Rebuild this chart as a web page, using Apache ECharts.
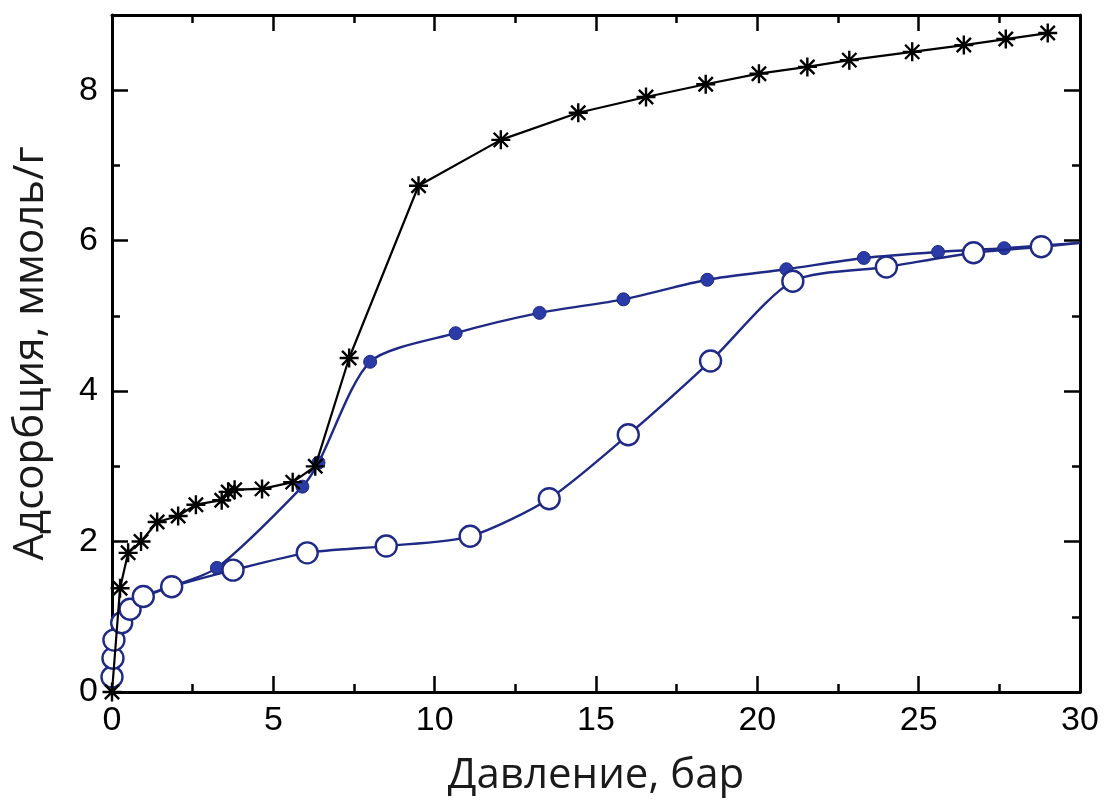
<!DOCTYPE html>
<html><head><meta charset="utf-8">
<script src="https://cdn.jsdelivr.net/npm/echarts@6/dist/echarts.min.js"></script>
<style>html,body{margin:0;padding:0;background:#fff}#c{width:1106px;height:802px}</style>
</head><body><div id="c"></div>
<script>
const xTicks = [0, 5, 10, 15, 20, 25, 30];
const yTicks = [0, 2, 4, 6, 8];

const starX = [0, 0.25, 0.5, 0.9, 1.4, 2.05, 2.6, 3.4, 3.6, 3.8, 4.65, 5.6, 6.3, 7.35, 9.5, 12.05, 14.45, 16.55, 18.4, 20.05, 21.55, 22.85, 24.8, 26.4, 27.7, 29.0];
const starY = [0, 1.38, 1.85, 2.0, 2.26, 2.34, 2.49, 2.55, 2.66, 2.69, 2.7, 2.79, 3.0, 4.44, 6.73, 7.34, 7.7, 7.91, 8.08, 8.22, 8.31, 8.4, 8.51, 8.6, 8.68, 8.76];

const filledX = [0, 0.05, 0.1, 0.35, 0.6, 1.0, 1.7, 3.25, 5.9, 6.4, 8.0, 10.65, 13.25, 15.85, 18.45, 20.9, 23.3, 25.6, 27.65];
const filledY = [0.2, 0.45, 0.7, 0.93, 1.1, 1.26, 1.38, 1.65, 2.73, 3.05, 4.39, 4.77, 5.04, 5.22, 5.48, 5.62, 5.77, 5.85, 5.9];

const openX = [0, 0.03, 0.06, 0.3, 0.56, 0.97, 1.85, 3.75, 6.05, 8.5, 11.1, 13.55, 16.0, 18.55, 21.1, 24.0, 26.7, 28.8];
const openY = [0.2, 0.45, 0.69, 0.92, 1.1, 1.27, 1.4, 1.62, 1.85, 1.94, 2.07, 2.57, 3.42, 4.4, 5.46, 5.65, 5.84, 5.92];

const lineEndX = 30;
const lineEndY = 5.97;

const xTitle = 'Давление, бар';
const yTitle = 'Адсорбция, ммоль/г';

const BLUE = '#1f2a86';
const BLUE_FILL = '#2a3ba8';
const pair = (xs, ys) => xs.map((x, i) => [x, ys[i]]);
const withEnd = (arr) => arr.concat([{ value: [lineEndX, lineEndY], symbol: 'none' }]);

const chart = echarts.init(document.getElementById('c'), null, { renderer: 'canvas' });
const axisCommon = {
  type: 'value', min: 0,
  axisLine: { show: true, onZero: false, lineStyle: { color: '#000', width: 3 } },
  axisTick: { show: true, inside: true, length: 16, lineStyle: { color: '#000', width: 2.5 } },
  minorTick: { show: true, splitNumber: 2, length: 8, lineStyle: { color: '#000', width: 2.5 } },
  splitLine: { show: false }
};
const labelFont = { color: '#000', fontSize: 34, fontFamily: 'Liberation Sans, Arial, sans-serif' };
const titleFont = { color: '#1a1a1a', fontSize: 42, fontFamily: 'Open Sans, Noto Sans, sans-serif' };

chart.setOption({
  animation: false,
  backgroundColor: '#fff',
  grid: { left: 112, right: 26, top: 15, bottom: 110 },
  xAxis: [
    Object.assign({}, axisCommon, {
      max: 30, interval: 5, position: 'bottom',
      axisLabel: Object.assign({ margin: 12, formatter: v => xTicks.includes(v) ? String(v) : '' }, labelFont),
      name: xTitle, nameLocation: 'middle', nameGap: 63, nameTextStyle: titleFont
    }),
    Object.assign({}, axisCommon, { max: 30, interval: 5, position: 'top', axisLabel: { show: false } })
  ],
  yAxis: [
    Object.assign({}, axisCommon, {
      max: 9, interval: 2, position: 'left',
      axisLabel: Object.assign({ margin: 14, formatter: v => yTicks.includes(v) ? String(v) : '' }, labelFont),
      name: yTitle, nameLocation: 'middle', nameGap: 60, nameRotate: 90, nameTextStyle: titleFont
    }),
    Object.assign({}, axisCommon, { max: 9, interval: 2, position: 'right', axisLabel: { show: false } })
  ],
  series: [
    {
      type: 'line', data: withEnd(pair(filledX, filledY)), smooth: 0.25,
      symbol: 'circle', symbolSize: 13,
      lineStyle: { color: BLUE, width: 2.4 },
      itemStyle: { color: BLUE_FILL, borderColor: BLUE, borderWidth: 1 }, z: 2
    },
    {
      type: 'line', data: withEnd(pair(openX, openY)), smooth: 0.25,
      symbol: 'circle', symbolSize: 21,
      lineStyle: { color: BLUE, width: 2.4 },
      itemStyle: { color: '#fff', borderColor: BLUE, borderWidth: 2.4 }, z: 3
    },
    {
      type: 'line', data: pair(starX, starY),
      symbol: 'path://M0 -10 L0 10 M-10 0 L10 0 M-7.5 -7.5 L7.5 7.5 M-7.5 7.5 L7.5 -7.5', symbolSize: 19,
      lineStyle: { color: '#000', width: 2.2 },
      itemStyle: { color: 'rgba(0,0,0,0)', borderColor: '#000', borderWidth: 2.4 }, z: 4
    }
  ]
});
</script></body></html>
